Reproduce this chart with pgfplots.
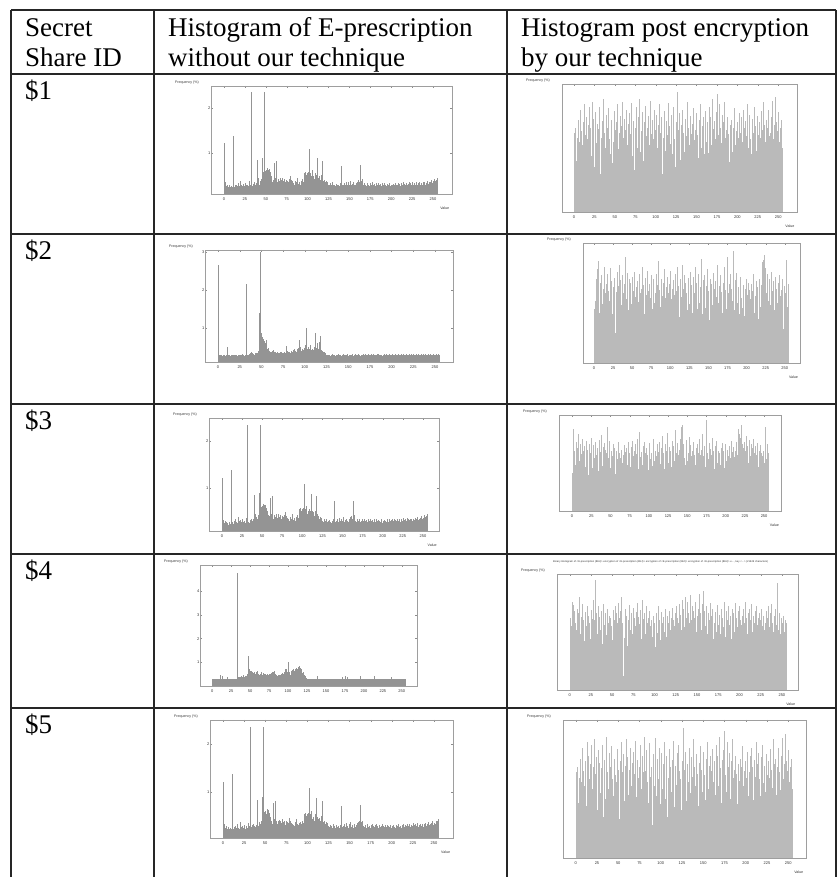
\documentclass[border=0pt]{standalone}
\usepackage{pgfplots}
\pgfplotsset{compat=1.18}
\usepackage{pgfplotstable}
\usepackage{fontspec}
\setmainfont{Liberation Serif}
\newfontfamily\plotfont{Liberation Sans}

% columns: x = grey value, A..C = plaintext histograms, D..G = encrypted histograms
\pgfplotstableread{
x A B C D E F G
0 122 265 28 62 45 40 30
1 35 28 28 48 52 58 62
2 32 27 29 66 38 85 55
3 26 29 28 40 70 62 76
4 30 28 28 58 78 48 73
5 24 27 29 72 60 72 68
6 28 30 28 55 85 55 45
7 25 28 28 45 42 66 58
8 22 27 29 80 67 80 52
9 27 29 28 63 55 52 70
10 24 28 45 52 73 44 66
11 138 50 28 70 49 70 80
12 25 28 29 38 62 59 48
13 28 29 42 84 80 75 57
14 23 27 28 60 36 63 63
15 30 28 28 74 58 50 74
16 26 30 29 57 66 68 60
17 34 28 28 68 74 46 42
18 27 27 28 82 44 73 67
19 25 29 29 50 60 57 55
20 38 28 40 66 52 64 72
21 29 30 28 44 79 38 50
22 26 27 28 86 68 70 64
23 31 29 29 61 57 60 58
24 27 28 28 73 41 52 44
25 33 30 28 35 63 76 69
26 24 27 30 78 71 45 61
27 28 29 28 54 50 62 53
28 30 31 29 69 25 69 78
29 26 28 30 47 59 55 60
30 37 27 28 65 76 72 95
31 30 29 29 82 47 48 66
32 235 28 30 30 64 58 48
33 28 215 478 58 82 66 57
34 26 28 35 71 55 42 72
35 32 30 38 43 69 74 63
36 35 32 40 88 48 61 52
37 30 34 36 62 73 53 68
38 29 36 42 50 58 79 40
39 33 35 38 76 38 47 61
40 85 30 40 34 66 67 74
41 45 32 45 66 88 56 56
42 30 30 38 81 53 71 66
43 38 34 42 57 61 64 47
44 34 33 40 45 75 50 70
45 42 35 44 72 44 60 58
46 90 40 50 60 70 88 64
47 58 90 125 38 57 55 51
48 235 140 95 55 67 68 62
49 60 300 70 79 49 73 55
50 62 88 65 64 72 45 43
51 55 75 62 28 60 62 69
52 66 70 60 70 43 57 60
53 63 65 58 84 76 70 72
54 64 60 55 49 55 51 48
55 58 68 60 62 63 66 66
56 50 55 56 75 36 39 58
57 42 45 52 41 68 63 75
58 35 48 58 67 51 58 62
59 40 40 62 86 74 54 52
60 78 38 55 58 58 72 68
61 45 36 50 73 46 46 80
62 82 40 48 46 62 60 58
63 40 35 52 64 80 55 12
64 35 42 58 80 53 64 45
65 42 38 50 52 65 50 70
66 38 36 47 69 41 58 56
67 44 33 55 36 71 44 64
68 40 38 52 77 57 69 38
69 36 35 48 61 48 61 60
70 45 34 50 85 77 53 73
71 38 32 46 44 60 66 52
72 42 36 52 71 35 48 66
73 35 38 48 58 66 72 58
74 33 35 45 33 54 60 48
75 40 33 50 66 73 55 71
76 38 36 47 82 45 46 62
77 36 34 52 50 62 67 55
78 42 52 55 74 70 73 67
79 48 48 58 62 50 52 75
80 40 40 60 88 58 57 50
81 37 36 55 47 74 62 63
82 35 38 62 63 43 70 57
83 33 35 50 78 65 49 69
84 30 40 45 55 85 59 44
85 38 37 48 40 52 75 78
86 35 34 42 70 61 44 61
87 45 42 45 83 47 65 53
88 34 45 40 59 70 82 66
89 32 40 46 66 56 56 48
90 36 38 48 24 39 61 72
91 30 44 52 75 67 48 58
92 38 48 55 52 78 68 62
93 34 42 48 87 54 53 40
94 42 68 52 61 63 72 68
95 36 50 58 45 42 60 55
96 55 40 70 72 72 50 60
97 58 45 65 57 58 66 46
98 52 42 72 80 48 58 64
99 50 48 60 39 66 43 52
100 56 46 100 64 77 62 58
101 58 55 55 76 53 71 37
102 108 100 60 50 62 54 66
103 55 45 48 68 40 60 49
104 48 50 62 84 69 47 72
105 62 44 58 43 57 68 55
106 45 56 66 62 74 75 60
107 50 42 70 74 45 52 43
108 42 40 62 30 60 63 67
109 55 45 72 58 80 57 58
110 52 42 68 79 51 45 63
111 88 50 75 66 64 70 50
112 50 88 70 48 38 61 70
113 45 48 80 71 70 56 56
114 48 60 72 60 55 72 46
115 40 45 85 85 82 49 64
116 52 52 78 37 47 66 58
117 82 62 65 67 62 78 68
118 45 80 70 53 73 53 52
119 38 42 55 76 50 60 62
120 40 40 60 45 67 44 44
121 35 38 48 82 58 70 71
122 38 36 42 63 44 63 60
123 32 34 38 57 71 58 55
124 36 32 35 35 60 81 66
125 30 30 30 70 49 50 48
126 28 29 28 94 76 67 72
127 33 28 28 50 54 55 62
128 30 30 29 64 65 62 58
129 26 27 28 77 42 46 74
130 35 29 28 41 72 73 65
131 28 31 29 68 58 57 52
132 30 28 28 55 80 68 78
133 26 30 28 80 53 52 60
134 32 29 28 62 67 84 70
135 28 27 29 47 45 60 54
136 25 30 28 73 61 47 80
137 30 28 28 59 74 71 62
138 27 31 42 86 50 58 48
139 33 29 28 44 63 64 76
140 72 28 29 66 87 53 66
141 28 30 28 52 56 75 58
142 30 27 28 75 41 88 82
143 26 29 29 61 69 90 60
144 34 31 28 38 58 62 72
145 28 28 28 69 73 70 55
146 36 30 29 81 46 55 68
147 30 29 28 56 64 48 62
148 27 28 28 64 78 66 76
149 35 31 28 48 52 74 50
150 30 27 29 77 60 52 64
151 38 30 28 60 36 60 70
152 28 29 28 42 70 77 58
153 32 28 29 72 57 45 83
154 26 31 28 58 66 69 66
155 35 30 28 84 48 57 52
156 30 27 29 50 75 63 74
157 28 29 28 67 62 50 85
158 33 32 28 74 44 72 60
159 36 28 29 45 68 58 68
160 38 30 28 63 55 48 55
161 40 29 28 79 71 66 72
162 35 31 29 55 82 55 48
163 73 28 28 70 50 70 66
164 38 27 28 46 64 60 60
165 42 30 29 82 47 42 75
166 30 29 28 60 73 75 52
167 28 31 28 74 59 58 64
168 33 28 29 52 42 64 70
169 30 30 28 88 67 52 44
170 26 32 28 65 80 80 58
171 34 29 40 40 53 57 67
172 28 28 29 71 61 68 62
173 30 31 28 57 45 46 50
174 27 30 28 78 70 73 73
175 33 29 42 92 88 95 56
176 29 32 28 60 58 60 65
177 35 28 29 48 66 54 48
178 30 30 40 84 48 71 70
179 28 31 28 66 74 47 58
180 32 29 28 54 62 65 62
181 27 28 29 76 52 58 54
182 34 30 28 43 93 76 76
183 30 32 28 70 57 52 46
184 26 29 29 86 44 62 68
185 33 31 28 58 69 44 60
186 29 28 28 64 60 68 52
187 31 30 29 50 75 57 72
188 27 29 28 74 50 73 56
189 34 27 28 61 63 50 64
190 30 30 29 39 41 63 44
191 28 31 28 68 68 55 70
192 33 28 28 56 72 60 58
193 29 29 29 72 54 48 66
194 27 31 28 47 46 66 50
195 32 30 42 66 65 71 75
196 30 28 28 81 58 53 62
197 28 32 29 52 39 62 54
198 33 29 28 63 62 45 68
199 26 30 28 34 70 58 48
200 30 28 29 70 50 70 72
201 28 31 28 58 57 52 60
202 32 29 28 77 67 64 56
203 29 30 29 45 44 57 64
204 27 32 28 62 61 40 52
205 33 28 28 74 53 68 70
206 30 30 29 55 66 55 58
207 28 29 28 80 48 73 76
208 34 31 28 66 60 61 62
209 29 28 29 42 74 50 48
210 31 30 28 71 42 67 66
211 27 32 28 59 56 56 70
212 33 29 29 84 68 62 54
213 30 31 28 50 51 47 60
214 35 28 42 68 63 72 74
215 28 30 28 76 37 58 50
216 32 29 29 57 70 85 64
217 30 32 28 45 58 80 58
218 34 30 28 73 47 64 68
219 29 28 29 62 65 76 46
220 31 31 28 82 72 90 72
221 35 29 28 54 84 70 56
222 28 30 29 67 86 60 62
223 33 32 28 48 90 66 66
224 30 28 28 75 66 72 48
225 36 31 29 60 79 55 60
226 29 30 28 43 58 62 70
227 32 29 28 70 74 78 55
228 34 32 29 58 52 68 64
229 30 28 28 79 70 50 52
230 36 30 28 64 63 74 58
231 28 31 29 51 48 64 68
232 33 29 28 86 76 57 46
233 31 30 28 68 60 70 62
234 35 32 29 55 55 48 72
235 30 28 28 72 68 66 54
236 34 31 40 46 44 75 66
237 29 29 28 66 72 60 60
238 35 30 29 80 58 52 74
239 31 32 28 59 62 68 58
240 36 28 28 62 50 58 50
241 30 30 29 49 67 71 64
242 34 31 28 74 40 46 70
243 38 29 28 87 73 63 56
244 32 28 29 57 56 55 92
245 35 31 28 68 61 69 60
246 30 30 28 90 45 60 52
247 36 29 29 45 70 38 66
248 40 32 28 70 28 57 48
249 33 30 28 63 64 62 62
250 37 28 29 78 52 50 58
251 35 31 28 55 58 88 55
252 42 29 28 66 86 66 64
253 38 30 29 38 47 54 50
254 40 31 28 72 66 70 60
255 45 29 28 50 53 60 58
}\histdata

\tikzset{
  lbl/.style={font=\plotfont\fontsize{3.6}{3.6}\selectfont, text=black!80, inner sep=0.5pt},
}
\pgfplotsset{
  histo/.style={
    scale only axis, anchor=south west,
    axis line style={black!38, line width=0.5pt},
    tick style={black!45, line width=0.3pt},
    major tick length=1.8pt, tick align=inside,
    xtick={0,25,...,250},
    ticklabel style={font=\plotfont\fontsize{4}{4}\selectfont, inner sep=0.5pt, text=black!80},
    /pgf/number format/assume math mode=true,
    xticklabel style={yshift=-3pt},
    clip mode=individual,
  },
  lefthist/.style={histo, ytick={100,200,300,400}, yticklabels={1,2,3,4}},
  righthist/.style={histo, ymin=0, ymax=100, ytick=\empty},
  lbars/.style={ycomb, mark=none, draw=black!42, line width=0.4pt},
  rbars/.style={ycomb, mark=none, draw=black!27, line width=0.42pt},
}
\newcommand\freqlabel{\node[lbl, anchor=south, xshift=-24pt, yshift=1.5pt] at (rel axis cs:0,1) {Frequency (\%)};}
\newcommand\valuelabel{\node[lbl, yshift=-14pt] at (rel axis cs:0.97,0) {Value};}

\begin{document}
\begin{tikzpicture}[x=1pt, y=1pt]
\useasboundingbox (0,0) rectangle (838,877);

% table rules
\begin{scope}[line width=1.6pt, black!85]
  \draw (11,867) -- (836,867);
  \draw (11,803) -- (836,803);
  \draw (11,643) -- (836,643);
  \draw (11,473) -- (836,473);
  \draw (11,323) -- (836,323);
  \draw (11,169) -- (836,169);
  \draw (11,867) -- (11,0);
  \draw (154,867) -- (154,0);
  \draw (507,867) -- (507,0);
  \draw (836,867) -- (836,0);
\end{scope}

% header and row names
\begin{scope}[every node/.style={anchor=base west, inner sep=0pt, font=\fontsize{27}{30}\selectfont}]
  \node at (25,840) {Secret};
  \node at (25,810) {Share ID};
  \node at (168,840) {Histogram of E-prescription};
  \node at (168,810) {without our technique};
  \node at (521,840) {Histogram post encryption};
  \node at (521,810) {by our technique};
  \node at (25,777) {\$1};
  \node at (25,617) {\$2};
  \node at (25,447) {\$3};
  \node at (25,297) {\$4};
  \node at (25,143) {\$5};
\end{scope}

% ---- row 1
\begin{axis}[lefthist, at={(211pt,683pt)}, width=241pt, height=108pt,
  xmin=-15.5, xmax=272.7, ymin=9, ymax=249]
  \addplot[lbars] table[x=x, y=A] {\histdata};
  \freqlabel \valuelabel
\end{axis}
\begin{axis}[righthist, at={(562pt,665pt)}, width=235pt, height=128pt,
  xmin=-14.7, xmax=273]
  \addplot[rbars] table[x=x, y=D] {\histdata};
  \freqlabel \valuelabel
\end{axis}

% ---- row 2
\begin{axis}[lefthist, at={(205pt,515pt)}, width=248pt, height=112pt,
  xmin=-15, xmax=270.7, ymin=10.5, ymax=305]
  \addplot[lbars] table[x=x, y=B] {\histdata};
  \freqlabel
\end{axis}
\begin{axis}[righthist, at={(583pt,514pt)}, width=217pt, height=120pt,
  xmin=-14.4, xmax=270]
  \addplot[rbars] table[x=x, y=E] {\histdata};
  \freqlabel \valuelabel
\end{axis}

% ---- row 3
\begin{axis}[lefthist, at={(209pt,346pt)}, width=230pt, height=113pt,
  xmin=-16, xmax=270, ymin=8.5, ymax=249]
  \addplot[lbars] table[x=x, y=A] {\histdata};
  \freqlabel \valuelabel
\end{axis}
\begin{axis}[righthist, at={(559pt,366pt)}, width=222pt, height=96pt,
  xmin=-17, xmax=272]
  \addplot[rbars] table[x=x, y=F] {\histdata};
  \freqlabel \valuelabel
\end{axis}

% ---- row 4
\begin{axis}[lefthist, at={(200pt,191pt)}, width=217pt, height=121pt,
  xmin=-16, xmax=270, ymin=0, ymax=511]
  \addplot[lbars] table[x=x, y=C] {\histdata};
  \freqlabel
\end{axis}
\begin{axis}[righthist, at={(557pt,187pt)}, width=241pt, height=116pt,
  xmin=-15, xmax=269]
  \addplot[rbars] table[x=x, y=G] {\histdata};
  \freqlabel \valuelabel
  \node[lbl, font=\plotfont\fontsize{2.6}{3}\selectfont, yshift=12pt] at (rel axis cs:0.43,1)
    {Binary Histogram of <E-prescription (8EJ)> encryption of <E-prescription (8EJ)> encryption of <E-prescription (8EJ)> encryption of <E-prescription (8EJ)> e..., key <...> (21649 characters)};
\end{axis}

% ---- row 5
\begin{axis}[lefthist, at={(210pt,39pt)}, width=243pt, height=118pt,
  xmin=-15.4, xmax=272.5, ymin=6, ymax=249]
  \addplot[lbars] table[x=x, y=A] {\histdata};
  \freqlabel \valuelabel
\end{axis}
\begin{axis}[righthist, at={(563pt,19pt)}, width=243pt, height=138pt,
  xmin=-15, xmax=271]
  \addplot[rbars] table[x=x, y=D] {\histdata};
  \freqlabel \valuelabel
\end{axis}
\end{tikzpicture}
\end{document}
